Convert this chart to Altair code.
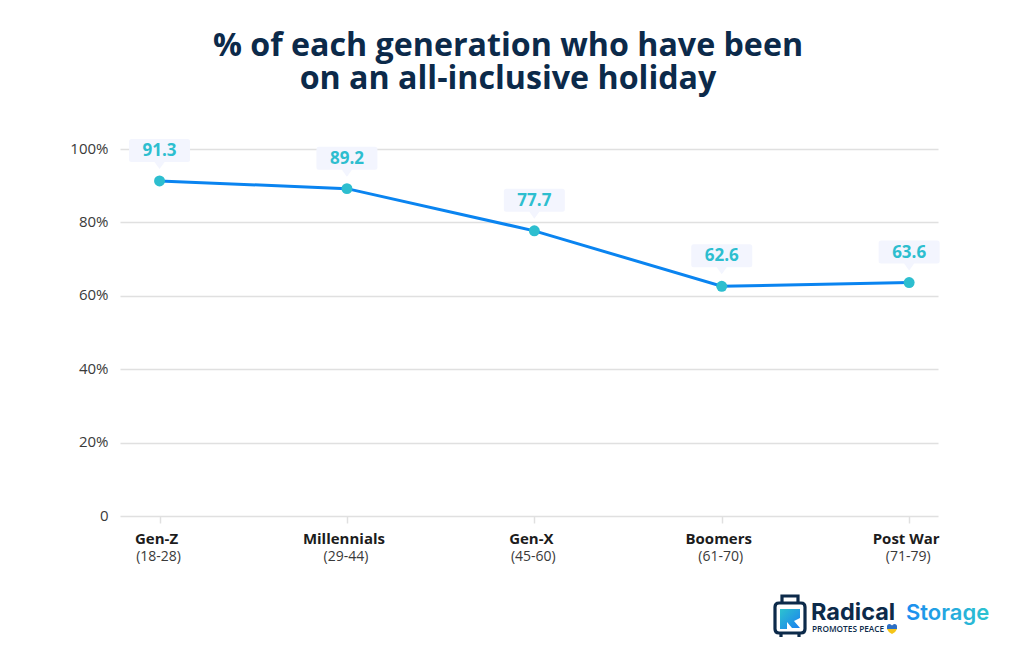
import altair as alt
import pandas as pd

generations = ["Gen-Z", "Millennials", "Gen-X", "Boomers", "Post War"]
age_ranges = ["(18-28)", "(29-44)", "(45-60)", "(61-70)", "(71-79)"]
shares = [91.3, 89.2, 77.7, 62.6, 63.6]
y_ticks = [0, 20, 40, 60, 80, 100]
title_lines = ["% of each generation who have been", "on an all-inclusive holiday"]

FONT = "Open Sans"
NAVY = "#0c2a4a"
TEAL = "#2dbecf"
BLUE = "#0a84f0"
GRID = "#e0e0e0"
W, H = 818, 367

df = pd.DataFrame({
    "i": list(range(len(generations))),
    "gen": generations,
    "age": age_ranges,
    "share": shares,
    "label": [f"{v:.1f}" for v in shares],
})

x = alt.X(
    "i:Q",
    scale=alt.Scale(domain=[-0.211, 4.154], nice=False, zero=False),
    axis=alt.Axis(values=list(range(5)), labels=False, title=None, grid=False,
                  domain=False, ticks=True, tickColor=GRID, tickSize=7, tickWidth=1.5),
)
y = alt.Y(
    "share:Q",
    scale=alt.Scale(domain=[0, 100], nice=False),
    axis=alt.Axis(values=y_ticks, title=None, grid=True, gridColor=GRID, gridWidth=1.5,
                  domain=False, ticks=False, labelFont=FONT, labelFontSize=15,
                  labelColor="#3a3a3a", labelPadding=12, labelOffset=-1,
                  labelExpr="datum.value === 0 ? '0' : datum.value + '%'"),
)
base = alt.Chart(df)

callout_path = ("M-28,-42 L28,-42 Q30.5,-42 30.5,-39.5 L30.5,-21.5 Q30.5,-19 28,-19 "
                "L5,-19 L0,-12 L-5,-19 L-28,-19 Q-30.5,-19 -30.5,-21.5 L-30.5,-39.5 "
                "Q-30.5,-42 -28,-42 Z")
callouts = base.mark_point(shape=callout_path, size=4, filled=True, fill="#f3f5fe",
                           stroke=None, opacity=1).encode(x=x, y=y)
line = base.mark_line(color=BLUE, strokeWidth=3).encode(x=x, y=y)
points = base.mark_point(filled=True, fill=TEAL, size=120, opacity=1, stroke=None).encode(x=x, y=y)
values = base.mark_text(font=FONT, fontSize=17, fontWeight=700, color=TEAL, dy=-30,
                        baseline="middle").encode(x=x, y=y, text="label:N")

names = base.mark_text(font=FONT, fontSize=15, fontWeight=700, color="#1c1c1c", baseline="middle", dx=-3).encode(
    x=x, y=alt.value(390), text="gen:N")
ages = base.mark_text(font=FONT, fontSize=14, color="#3a3a3a", baseline="middle", dx=-1).encode(
    x=x, y=alt.value(408), text="age:N")

# Logo (decoration), placed in pixels relative to the plot area
LX, LY = -120, -149
def logo_shape(px, py, path, **kw):
    return alt.Chart(pd.DataFrame({"a": [0]})).mark_point(shape=path, size=4, opacity=1, **kw).encode(
        x=alt.value(px + LX), y=alt.value(py + LY))

def logo_text(px, py, text, **kw):
    return alt.Chart(pd.DataFrame({"t": [text]})).mark_text(align="left", baseline="middle", **kw).encode(
        x=alt.value(px + LX), y=alt.value(py + LY), text="t:N")

storage_grad = alt.LinearGradient(gradient="linear", x1=0, y1=0, x2=1, y2=0, stops=[
    alt.GradientStop(color="#1b8cf0", offset=0), alt.GradientStop(color="#2dc3cf", offset=1)])
icon_grad = alt.LinearGradient(gradient="linear", x1=0, y1=0, x2=1, y2=1, stops=[
    alt.GradientStop(color="#2dc3cf", offset=0), alt.GradientStop(color="#1b7ff0", offset=1)])

suitcase = logo_shape(790, 618,
    "M-11,-15 L11,-15 Q15,-15 15,-11 L15,11 Q15,15 11,15 L-11,15 Q-15,15 -15,11 L-15,-11 Q-15,-15 -11,-15 Z "
    "M-8,-15 L-8,-22 L8,-22 L8,-15 M-9,15 L-9,19 M9,15 L9,19",
    filled=False, stroke=NAVY, strokeWidth=3.2)
inner = logo_shape(790, 619,
    "M-10,-10 L10,-10 L10,-1 L4,2 L10,9 L2,9 L-3,3 L-3,10 L-10,10 Z",
    filled=True, fill=icon_grad, stroke=None)
heart_top = logo_shape(892, 629, "M-5,0 L-5,-2.5 Q-5,-5 -2.5,-5 Q-1,-5 0,-3.5 Q1,-5 2.5,-5 Q5,-5 5,-2.5 L5,0 Z",
                       filled=True, fill="#2d6fc4", stroke=None)
heart_bot = logo_shape(892, 629, "M-5,0 L5,0 Q4,3 0,5 Q-4,3 -5,0 Z",
                       filled=True, fill="#f5c518", stroke=None)
radical = logo_text(811, 613, "Radical", font="Inter", fontSize=23.5, fontWeight=700, color=NAVY)
storage = logo_text(906, 613, "Storage", font="Inter", fontSize=22, fontWeight=600, color=storage_grad)
promotes = logo_text(812, 630, "PROMOTES PEACE", font=FONT, fontSize=8.3, fontWeight=600, color=NAVY)

chart = alt.layer(
    callouts, line, points, values, names, ages,
    suitcase, inner, radical, storage, promotes, heart_top, heart_bot,
).properties(
    width=W, height=H,
    padding={"left": 112, "top": 141, "right": 78, "bottom": 144},
    autosize=alt.AutoSizeParams(type="none"),
    background="#ffffff",
    view=alt.ViewBackground(stroke="transparent"),
    title=alt.TitleParams(text=title_lines, font=FONT, fontSize=32.2, fontWeight=700,
                          color=NAVY, lineHeight=33, anchor="middle", dx=-21, offset=43),
).configure_view(stroke="transparent", clip=False)

chart.save("out.html", embed_options={"renderer": "svg", "actions": False})
